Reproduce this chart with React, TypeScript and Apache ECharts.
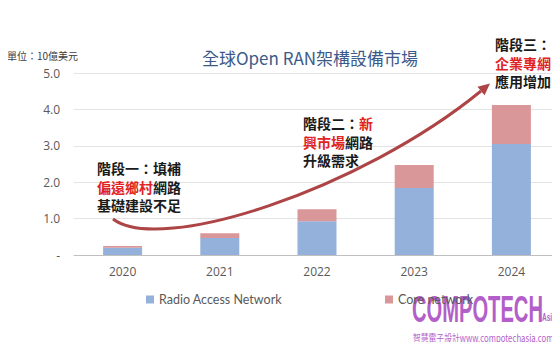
import React, { useEffect, useRef } from "react";
import * as echarts from "echarts";

const categories = ["2020", "2021", "2022", "2023", "2024"];
const ranValues = [0.2, 0.47, 0.93, 1.84, 3.05];
const coreValues = [0.05, 0.13, 0.33, 0.63, 1.07];
const seriesNames = ["Radio Access Network", "Core network"];
const yTicks = { min: 0, max: 5, interval: 1 };

export default function App() {
  const ref = useRef<HTMLDivElement>(null);
  useEffect(() => {
    const chart = echarts.init(ref.current!, null, { renderer: "svg" });
    const cjk = '"Noto Sans CJK TC", "Noto Sans", sans-serif';
    const latin = '"Open Sans", "Noto Sans CJK TC", sans-serif';
    const stageRich = {
      k: { fontSize: 14, fontWeight: "bold", fill: "#1a1a1a", fontFamily: cjk, lineHeight: 18.5 },
      r: { fontSize: 14, fontWeight: "bold", fill: "#e02424", fontFamily: cjk, lineHeight: 18.5 },
    };
    // arrow geometry
    const p0 = [113, 219], p1 = [160, 255], p2 = [360, 190], p3 = [481, 91];
    const tip = [490, 83.5];
    const dx = tip[0] - p3[0], dy = tip[1] - p3[1];
    const len = Math.hypot(dx, dy);
    const nx = -dy / len, ny = dx / len;
    const hw = 5.5;
    chart.setOption({
      animation: false,
      backgroundColor: "#ffffff",
      grid: { left: 74, top: 73, height: 182, width: 493 },
      legend: {
        left: 141,
        top: 288,
        itemWidth: 8,
        itemHeight: 8,
        itemGap: 103,
        icon: "rect",
        textStyle: { fontSize: 12.5, color: "#595959", fontFamily: 'Lato, "Open Sans", sans-serif' },
        data: seriesNames,
      },
      xAxis: {
        type: "category",
        data: categories,
        axisTick: { show: false },
        axisLine: { lineStyle: { color: "#bfbfbf" } },
        axisLabel: { fontSize: 12, color: "#595959", margin: 10, fontFamily: latin },
      },
      yAxis: {
        type: "value",
        min: yTicks.min,
        max: yTicks.max,
        interval: yTicks.interval,
        axisLine: { show: false },
        axisTick: { show: false },
        splitLine: { lineStyle: { color: "#e3e3e3" } },
        axisLabel: {
          fontSize: 12,
          color: "#595959",
          margin: 14,
          fontFamily: latin,
          formatter: (v: number) => (v === 0 ? "-" : v.toFixed(1)),
        },
      },
      series: [
        {
          name: seriesNames[0],
          type: "bar",
          stack: "total",
          barWidth: 39,
          data: ranValues,
          itemStyle: { color: "#93b1da" },
        },
        {
          name: seriesNames[1],
          type: "bar",
          stack: "total",
          barWidth: 39,
          data: coreValues,
          itemStyle: { color: "#da9799" },
        },
      ],
      graphic: [
        {
          type: "text",
          left: 7,
          top: 50,
          style: { text: "單位：10億美元", fontSize: 10, fill: "#404040", fontFamily: cjk },
        },
        {
          type: "text",
          x: 310,
          y: 57,
          style: {
            text: "全球Open RAN架構設備市場",
            fontSize: 17,
            fill: "#3b5a8a",
            fontFamily: cjk,
            align: "center",
            verticalAlign: "middle",
          },
        },
        {
          type: "bezierCurve",
          shape: { x1: p0[0], y1: p0[1], cpx1: p1[0], cpy1: p1[1], cpx2: p2[0], cpy2: p2[1], x2: p3[0], y2: p3[1] },
          style: { stroke: "#ad4446", lineWidth: 3, fill: null },
          z: 10,
        },
        {
          type: "polygon",
          shape: {
            points: [
              [tip[0], tip[1]],
              [p3[0] + nx * hw, p3[1] + ny * hw],
              [p3[0] - nx * hw, p3[1] - ny * hw],
            ],
          },
          style: { fill: "#ad4446" },
          z: 10,
        },
        {
          type: "text",
          x: 97,
          y: 159,
          style: {
            text: "{k|階段一：填補}\n{r|偏遠鄉村}{k|網路}\n{k|基礎建設不足}",
            rich: stageRich,
          },
          z: 11,
        },
        {
          type: "text",
          x: 303,
          y: 114,
          style: {
            text: "{k|階段二：}{r|新}\n{r|興市場}{k|網路}\n{k|升級需求}",
            rich: stageRich,
          },
          z: 11,
        },
        {
          type: "text",
          x: 495,
          y: 35,
          style: {
            text: "{k|階段三：}\n{r|企業專網}\n{k|應用增加}",
            rich: stageRich,
          },
          z: 11,
        },
        {
          type: "text",
          x: 412,
          y: 292,
          originX: 0,
          scaleX: 0.56,
          style: {
            text: "COMPOTECH",
            fontSize: 36,
            fontWeight: "bold",
            fill: "#b35fc9",
            fontFamily: '"Liberation Sans", Arial, sans-serif',
          },
        },
        {
          type: "text",
          x: 542,
          y: 312,
          originX: 0,
          scaleX: 0.65,
          style: {
            text: "Asia",
            fontSize: 10,
            fontWeight: "bold",
            fill: "#b35fc9",
            fontFamily: '"Liberation Sans", sans-serif',
          },
        },
        {
          type: "text",
          x: 413,
          y: 333,
          originX: 0,
          scaleX: 0.78,
          style: {
            text: "智慧電子設計www.compotechasia.com",
            fontSize: 10,
            fill: "#b35fc9",
            fontFamily: '"Noto Sans CJK TC", sans-serif',
          },
        },
      ],
    });
    return () => chart.dispose();
  }, []);
  return <div ref={ref} style={{ width: 560, height: 350, margin: -8 }} />;
}
